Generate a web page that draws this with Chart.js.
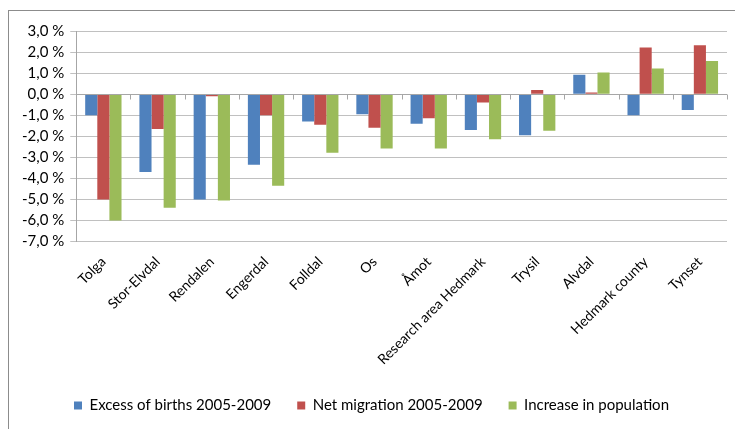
<!DOCTYPE html>
<html>
<head>
<meta charset="utf-8">
<script src="https://cdn.jsdelivr.net/npm/chart.js@4/dist/chart.umd.min.js"></script>
<style>
	html, body { margin: 0; padding: 0; background: #fff; overflow: hidden; }
	#wrap { position: relative; width: 735px; height: 429px; }
	#frame { position: absolute; left: 8px; top: 10px; width: 800px; height: 500px; border: 1px solid #8c8c8c; }
	#c { position: absolute; left: 0; top: 0; }
</style>
</head>
<body>
<div id="wrap">
	<div id="frame"></div>
	<canvas id="c" width="735" height="429"></canvas>
</div>
<script>
// municipalities and the three series (percent)
const categories = ['Tolga', 'Stor-Elvdal', 'Rendalen', 'Engerdal', 'Folldal', 'Os', 'Åmot',
	'Research area Hedmark', 'Trysil', 'Alvdal', 'Hedmark county', 'Tynset'];
const excessBirths = [-1.0, -3.7, -5.0, -3.35, -1.3, -0.95, -1.4, -1.7, -1.95, 0.92, -1.0, -0.75];
const netMigration = [-5.0, -1.65, -0.1, -1.0, -1.45, -1.6, -1.15, -0.4, 0.2, 0.08, 2.22, 2.32];
const popIncrease = [-6.0, -5.4, -5.05, -4.35, -2.78, -2.58, -2.58, -2.14, -1.74, 1.03, 1.22, 1.57];
const yMin = -7, yMax = 3, yStep = 1;

const font = "Lato, 'Open Sans', sans-serif";

// small tick marks hanging below the zero line, like the category axis in the original
const zeroAxis = {
	id: 'zeroAxis',
	afterDatasetsDraw(chart){
		const x = chart.scales.x, y = chart.scales.y;
		const y0 = Math.round(y.getPixelForValue(0)) + 0.5;
		const ctx = chart.ctx;
		ctx.save();
		ctx.strokeStyle = '#a6a6a6';
		ctx.lineWidth = 1;
		ctx.beginPath();
		ctx.moveTo(x.left, y0); ctx.lineTo(x.right, y0);
		const w = (x.right - x.left) / categories.length;
		for(let i = 0; i <= categories.length; i++){
			const px = Math.round(x.left + i * w) + 0.5;
			ctx.moveTo(px, y0); ctx.lineTo(px, y0 + 5);
		}
		ctx.stroke();
		ctx.restore();
	}
};

new Chart(document.getElementById('c').getContext('2d'), {
	type: 'bar',
	data: {
		labels: categories,
		datasets: [
			{ label: 'Excess of births 2005-2009', data: excessBirths, backgroundColor: '#4F81BD' },
			{ label: 'Net migration 2005-2009', data: netMigration, backgroundColor: '#C0504D' },
			{ label: 'Increase in population', data: popIncrease, backgroundColor: '#9BBB59' }
		]
	},
	options: {
		responsive: false,
		animation: false,
		datasets: { bar: { categoryPercentage: 0.67, barPercentage: 1.0 } },
		layout: { padding: { top: 31, right: 8, left: 16, bottom: 6 } },
		plugins: {
			tooltip: { enabled: false },
			legend: {
				position: 'bottom',
				labels: { boxWidth: 8, boxHeight: 8, padding: 26, color: '#000', font: { family: font, size: 15 } }
			}
		},
		scales: {
			x: {
				grid: { display: false },
				border: { display: false },
				ticks: { color: '#000', minRotation: 45, maxRotation: 45, autoSkip: false, padding: 4, font: { family: font, size: 14 } }
			},
			y: {
				min: yMin, max: yMax,
				grid: { color: '#c0c0c0', tickLength: 6 },
				border: { color: '#a6a6a6' },
				ticks: {
					stepSize: yStep, autoSkip: false, color: '#000', padding: 6,
					font: { family: font, size: 15 },
					callback: v => v.toFixed(1).replace('.', ',') + ' %'
				}
			}
		}
	},
	plugins: [zeroAxis]
});
</script>
</body>
</html>
